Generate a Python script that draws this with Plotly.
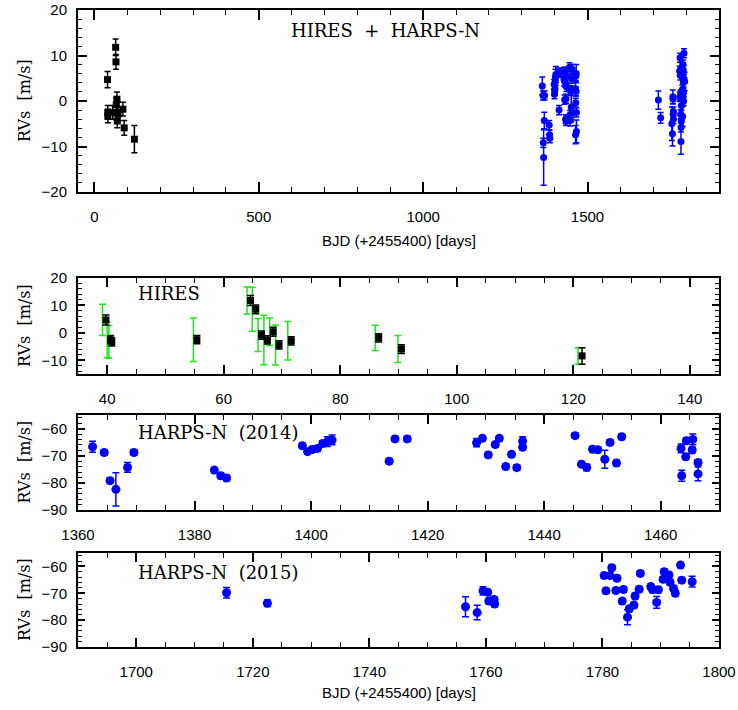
import plotly.graph_objects as go

# ---------------- data ----------------
# HIRES (BJD - 2455400)
hires_t = [39.8, 40.6, 40.8, 55.4, 64.6, 65.5, 66.5, 67.5, 68.5, 69.5, 71.6, 86.6, 90.5, 121.5]
hires_rv = [4.7, -2.5, -3.3, -2.5, 11.8, 8.6, -0.8, -2.6, 0.4, -4.4, -2.9, -1.8, -5.9, -8.4]
hires_err = [1.8, 1.5, 1.5, 1.5, 1.8, 1.6, 1.5, 1.5, 1.6, 1.5, 1.5, 1.5, 1.6, 3.0]
# HIRES error bars including jitter (green)
hires_jit_t = [39.2, 40.0, 40.3, 54.8, 64.0, 64.9, 65.9, 66.9, 67.9, 68.9, 71.0, 86.0, 89.9, 120.8]
hires_jit_err = [5.7, 6.5, 6.0, 7.9, 4.9, 8.0, 6.0, 9.0, 5.0, 7.3, 7.0, 4.6, 4.9, 3.0]

# HARPS-N 2014
t14 = [1362.5, 1364.5, 1365.5, 1366.5, 1368.5, 1369.6, 1383.4, 1384.5, 1385.5, 1398.5,
       1399.4, 1400.2, 1401.1, 1402.0, 1402.8, 1403.6, 1413.4, 1414.4, 1416.5, 1428.4,
       1429.4, 1430.4, 1431.6, 1432.3, 1433.4, 1434.4, 1435.3, 1436.3, 1436.3, 1445.3,
       1446.4, 1447.3, 1448.3, 1449.2, 1450.4, 1451.3, 1452.4, 1453.3, 1463.5, 1463.6,
       1464.3, 1464.4, 1465.4, 1465.5, 1466.4, 1466.4]
rv14 = [-66.7, -68.8, -79.2, -82.4, -74.3, -68.8, -75.3, -77.4, -78.2, -66.3,
        -68.5, -67.7, -67.3, -65.5, -64.8, -64.2, -72.0, -63.8, -63.8, -65.2,
        -63.6, -69.7, -65.9, -63.6, -74.0, -69.5, -74.4, -64.6, -66.9, -62.6,
        -73.1, -74.3, -67.6, -67.8, -71.3, -65.1, -72.7, -63.0, -67.3, -77.4,
        -70.4, -64.5, -67.9, -64.0, -72.5, -76.7]
err14 = [2.0, 1.0, 1.0, 6.1, 1.8, 1.0, 1.0, 1.0, 1.0, 1.0,
         1.0, 1.0, 1.0, 1.0, 1.8, 1.8, 1.0, 1.0, 1.0, 1.5,
         1.0, 1.0, 1.0, 1.0, 1.0, 1.0, 1.0, 1.6, 1.0, 1.0,
         1.0, 1.2, 1.0, 1.0, 3.3, 1.0, 1.0, 1.0, 1.6, 2.0,
         1.0, 1.0, 1.0, 2.0, 1.0, 2.5]

# HARPS-N 2015
t15 = [1715.5, 1722.5, 1756.5, 1758.5, 1759.5, 1760.3, 1760.5, 1761.4, 1761.5, 1780.3,
       1780.6, 1781.3, 1781.6, 1782.3, 1782.5, 1783.4, 1783.6, 1784.3, 1784.6, 1785.4,
       1785.6, 1786.3, 1786.5, 1788.3, 1788.6, 1789.3, 1789.6, 1790.4, 1790.6, 1791.4,
       1791.6, 1792.2, 1792.5, 1793.4, 1793.6, 1795.4]
rv15 = [-69.8, -73.7, -75.0, -77.2, -69.1, -69.6, -72.9, -72.3, -74.0, -63.4,
        -69.1, -63.4, -60.5, -69.0, -64.4, -72.9, -68.6, -78.9, -75.8, -74.4,
        -71.0, -68.5, -62.6, -67.5, -68.7, -73.4, -68.7, -64.8, -62.0, -63.2,
        -65.9, -68.2, -70.0, -59.5, -65.1, -65.7]
err15 = [2.0, 1.2, 3.7, 2.7, 1.5, 1.0, 1.0, 1.0, 1.0, 1.0,
         1.0, 1.0, 1.0, 1.0, 1.0, 1.0, 1.0, 2.8, 1.0, 1.0,
         1.0, 1.0, 1.0, 1.0, 1.0, 2.2, 1.0, 1.0, 1.0, 1.0,
         1.0, 1.0, 1.0, 1.0, 1.0, 2.0]

# offset applied to HARPS-N in the combined panel
harps_offset = 70.0

BLUE = "#0000FF"
GREEN = "#1EE61E"

fig = go.Figure()

def eb(arr, color, w=3.5):
    return dict(type="data", array=arr, color=color, thickness=1.5, width=w, visible=True)

# ---- panel 1: combined ----
harps_t = t14 + t15
harps_rv = [v + harps_offset for v in rv14 + rv15]
harps_err = err14 + err15
fig.add_trace(go.Scatter(x=harps_t, y=harps_rv, mode="markers", xaxis="x", yaxis="y",
                         marker=dict(color=BLUE, size=7, symbol="circle"),
                         error_y=eb(harps_err, BLUE, 3)))
fig.add_trace(go.Scatter(x=hires_t, y=hires_rv, mode="markers", xaxis="x", yaxis="y",
                         marker=dict(color="black", size=7, symbol="square"),
                         error_y=eb(hires_err, "black", 3)))

# ---- panel 2: HIRES ----
fig.add_trace(go.Scatter(x=hires_jit_t, y=hires_rv, mode="markers", xaxis="x2", yaxis="y2",
                         marker=dict(color=GREEN, size=1, opacity=0),
                         error_y=eb(hires_jit_err, GREEN, 3.5)))
fig.add_trace(go.Scatter(x=hires_t, y=hires_rv, mode="markers", xaxis="x2", yaxis="y2",
                         marker=dict(color="black", size=7, symbol="square"),
                         error_y=eb(hires_err, "black", 3.5)))

# ---- panel 3: HARPS-N 2014 ----
fig.add_trace(go.Scatter(x=t14, y=rv14, mode="markers", xaxis="x3", yaxis="y3",
                         marker=dict(color=BLUE, size=9, symbol="circle"),
                         error_y=eb(err14, BLUE, 3.5)))

# ---- panel 4: HARPS-N 2015 ----
fig.add_trace(go.Scatter(x=t15, y=rv15, mode="markers", xaxis="x4", yaxis="y4",
                         marker=dict(color=BLUE, size=9, symbol="circle"),
                         error_y=eb(err15, BLUE, 3.5)))

W, H = 738, 710
XL, XR = 78, 719
xdom = [XL / W, XR / W]

def ydom(top, bot):
    return [1 - bot / H, 1 - top / H]

TICKFONT = dict(family="Liberation Sans, Arial, sans-serif", size=15, color="black")

def axis_style(ticklen, minorlen, dtick, tick0, minor_dtick, rng, standoff):
    return dict(range=rng, showline=True, linecolor="black", linewidth=2, mirror="ticks",
                ticks="inside", ticklen=ticklen, tickwidth=1.5, tickcolor="black",
                dtick=dtick, tick0=tick0, showgrid=False, zeroline=False,
                tickfont=TICKFONT, ticklabelstandoff=standoff, automargin=False,
                ticklabeloverflow="allow",
                minor=dict(ticks="inside", ticklen=minorlen, tickwidth=1.2, tickcolor="black",
                           dtick=minor_dtick, tick0=tick0, showgrid=False))

panels = [
    # (top px, bottom px, xrange, xdtick, xminor, yrange)
    (10, 192, [-50, 1900], 500, 100, [-20, 20]),
    (278, 374, [35, 145], 20, 5, [-15, 20]),
    (415, 510, [1360, 1470], 20, 5, [-90, -55]),
    (553, 647, [1690, 1800], 20, 5, [-90, -55]),
]

layout = dict(width=W, height=H, margin=dict(l=0, r=0, t=0, b=0, autoexpand=False),
              plot_bgcolor="white", paper_bgcolor="white", showlegend=False)

for i, (top, bot, xr, xdt, xmn, yr) in enumerate(panels):
    sfx = "" if i == 0 else str(i + 1)
    xa = axis_style(10 if i == 0 else 9, 5, xdt, 0, xmn, xr, 10)
    xa.update(domain=xdom, anchor="y" + sfx)
    ya = axis_style(9 if i == 0 else 7, 4, 10, 0, 2, yr, 6)
    ya.update(domain=ydom(top, bot), anchor="x" + sfx)
    layout["xaxis" + sfx] = xa
    layout["yaxis" + sfx] = ya

fig.update_layout(**layout)

SERIF = "DejaVu Serif, Century Schoolbook L, serif"
ann = []
# y-axis titles
for (top, bot, *_rest) in panels:
    ann.append(dict(x=24 / W, y=1 - (top + bot) / 2 / H, xref="paper", yref="paper",
                    text="RVs  [m/s]", textangle=-90, showarrow=False,
                    font=dict(family=SERIF, size=16, color="black"),
                    xanchor="center", yanchor="middle"))
# x-axis titles
for ypx in (240, 692):
    ann.append(dict(x=(XL + XR) / 2 / W, y=1 - ypx / H, xref="paper", yref="paper",
                    text="BJD (+2455400) [days]", showarrow=False,
                    font=dict(family="Liberation Sans, Arial, sans-serif", size=15, color="black"),
                    xanchor="center", yanchor="middle"))
# panel labels
labels = [("HIRES  +  HARPS-N", 289, 31), ("HIRES", 136, 293),
          ("HARPS-N  (2014)", 136, 432), ("HARPS-N  (2015)", 136, 572)]
for txt, xpx, ypx in labels:
    ann.append(dict(x=xpx / W, y=1 - ypx / H, xref="paper", yref="paper", text=txt,
                    showarrow=False, font=dict(family=SERIF, size=18, color="black"),
                    xanchor="left", yanchor="middle"))
fig.update_layout(annotations=ann)

fig.write_html("out.html")
